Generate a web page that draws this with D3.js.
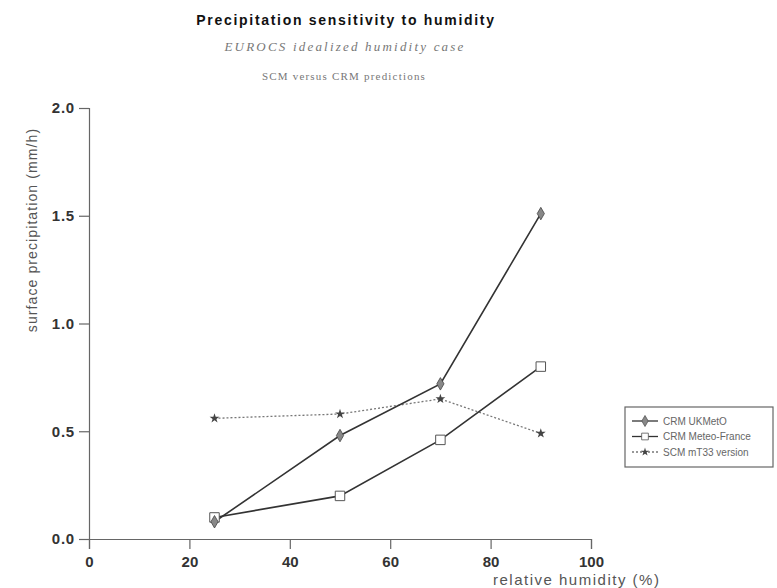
<!DOCTYPE html>
<html>
<head>
<meta charset="utf-8">
<script src="https://cdn.jsdelivr.net/npm/d3@7"></script>
<style>
  body { margin: 0; background: #fff; }
</style>
</head>
<body>
<div id="chart"></div>
<script>
// data
var humidity = [25, 50, 70, 90];
var ukmo = [0.08, 0.48, 0.72, 1.51];
var meteoFrance = [0.10, 0.20, 0.46, 0.80];
var scm = [0.56, 0.58, 0.65, 0.49];
var seriesNames = ["CRM UKMetO", "CRM Meteo-France", "SCM mT33 version"];
var xTicks = [0, 20, 40, 60, 80, 100];
var yTicks = [0, 0.5, 1.0, 1.5, 2.0];

var W = 777, H = 588;
var margin = {top: 108, right: 186, bottom: 49, left: 89},
    width = W - margin.left - margin.right,
    height = H - margin.top - margin.bottom;

var svg = d3.select("#chart")
  .append("svg")
    .attr("width", W)
    .attr("height", H)
    .style("font-family", "Liberation Sans, Arial, sans-serif");

var g = svg.append("g")
    .attr("transform", "translate(" + margin.left + "," + margin.top + ")");

var x = d3.scaleLinear().domain([0, 100]).range([0, width]);
var y = d3.scaleLinear().domain([0, 2]).range([height, 0]);

// titles
svg.append("text")
  .attr("x", 346).attr("y", 25)
  .attr("text-anchor", "middle")
  .style("font-size", "14px").style("font-weight", "bold").style("fill", "#111")
  .style("letter-spacing", "1.7px")
  .text("Precipitation sensitivity to humidity");
svg.append("text")
  .attr("x", 345).attr("y", 51)
  .attr("text-anchor", "middle")
  .style("font-family", "Liberation Serif, serif")
  .style("font-size", "13px").style("font-style", "italic").style("fill", "#777")
  .style("letter-spacing", "2.2px")
  .text("EUROCS idealized humidity case");
svg.append("text")
  .attr("x", 344).attr("y", 80)
  .attr("text-anchor", "middle")
  .style("font-family", "Liberation Serif, serif")
  .style("font-size", "11px").style("fill", "#777")
  .style("letter-spacing", "1.2px")
  .text("SCM versus CRM predictions");

// axes
var xAxis = g.append("g")
  .attr("transform", "translate(0," + height + ")")
  .call(d3.axisBottom(x).tickValues(xTicks).tickSize(10).tickPadding(7).tickFormat(d3.format("d")));
var yAxis = g.append("g")
  .call(d3.axisLeft(y).tickValues(yTicks).tickSize(10).tickPadding(4).tickFormat(d3.format(".1f")));
[xAxis, yAxis].forEach(function (a) {
  a.select(".domain").attr("stroke", "#666").attr("stroke-width", 1.2);
  a.selectAll(".tick line").attr("stroke", "#666").attr("stroke-width", 1.2);
  a.selectAll(".tick text").style("font-size", "15px").style("font-weight", "bold").style("fill", "#333");
});
yAxis.selectAll(".tick text").style("letter-spacing", "0.8px");

svg.append("text")
  .attr("transform", "translate(37," + 230 + ") rotate(-90)")
  .attr("text-anchor", "middle")
  .style("font-size", "14px").style("fill", "#555")
  .style("letter-spacing", "1.1px")
  .text("surface precipitation (mm/h)");
svg.append("text")
  .attr("x", 493).attr("y", 585)
  .style("font-size", "15px").style("fill", "#555")
  .style("letter-spacing", "1.5px")
  .text("relative humidity (%)");

var line = d3.line()
  .x(function (d) { return x(d[0]); })
  .y(function (d) { return y(d[1]); });

function pts(vals) { return humidity.map(function (h, i) { return [h, vals[i]]; }); }

// SCM dotted line
g.append("path")
  .datum(pts(scm))
  .attr("d", line).attr("fill", "none")
  .attr("stroke", "#777").attr("stroke-width", 1.3).attr("stroke-dasharray", "2,2");
g.append("path")
  .datum(pts(meteoFrance))
  .attr("d", line).attr("fill", "none")
  .attr("stroke", "#333").attr("stroke-width", 1.6);
g.append("path")
  .datum(pts(ukmo))
  .attr("d", line).attr("fill", "none")
  .attr("stroke", "#333").attr("stroke-width", 1.6);

// markers
g.selectAll(".mk-scm").data(pts(scm)).enter().append("path")
  .attr("transform", function (d) { return "translate(" + x(d[0]) + "," + y(d[1]) + ")"; })
  .attr("d", d3.symbol().type(d3.symbolStar).size(30))
  .attr("fill", "#444");
g.selectAll(".mk-mf").data(pts(meteoFrance)).enter().append("path")
  .attr("transform", function (d) { return "translate(" + x(d[0]) + "," + y(d[1]) + ")"; })
  .attr("d", d3.symbol().type(d3.symbolSquare).size(90))
  .attr("fill", "#fff").attr("stroke", "#555").attr("stroke-width", 1);
g.selectAll(".mk-uk").data(pts(ukmo)).enter().append("path")
  .attr("transform", function (d) { return "translate(" + x(d[0]) + "," + y(d[1]) + ")"; })
  .attr("d", d3.symbol().type(d3.symbolDiamond).size(45))
  .attr("fill", "#888").attr("stroke", "#444").attr("stroke-width", 0.8);

// legend
var leg = svg.append("g").attr("transform", "translate(625,407)");
leg.append("rect")
  .attr("width", 148).attr("height", 60)
  .attr("fill", "#fff").attr("stroke", "#666").attr("stroke-width", 1.2);
var legTypes = [
  {sym: d3.symbolDiamond, size: 35, fill: "#888", dash: null, color: "#333"},
  {sym: d3.symbolSquare, size: 45, fill: "#fff", dash: null, color: "#333"},
  {sym: d3.symbolStar, size: 22, fill: "#444", dash: "2,2", color: "#777"}
];
seriesNames.forEach(function (name, i) {
  var ly = 14 + i * 15.5;
  var t = legTypes[i];
  leg.append("line")
    .attr("x1", 7).attr("x2", 33).attr("y1", ly).attr("y2", ly)
    .attr("stroke", t.color).attr("stroke-width", 1.3)
    .attr("stroke-dasharray", t.dash);
  leg.append("path")
    .attr("transform", "translate(20," + ly + ")")
    .attr("d", d3.symbol().type(t.sym).size(t.size))
    .attr("fill", t.fill).attr("stroke", i === 2 ? "none" : "#555").attr("stroke-width", 0.8);
  leg.append("text")
    .attr("x", 38).attr("y", ly + 3.5)
    .style("font-size", "10px").style("fill", "#666")
    .text(name);
});
</script>
</body>
</html>
